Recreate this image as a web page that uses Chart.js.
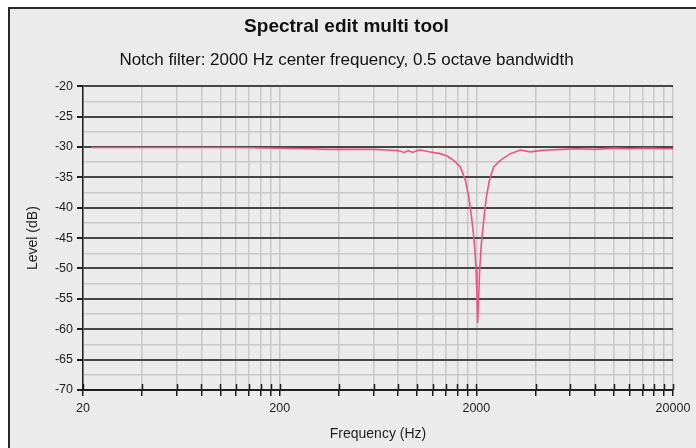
<!DOCTYPE html>
<html>
<head>
<meta charset="utf-8">
<script src="https://cdn.jsdelivr.net/npm/chart.js@4/dist/chart.umd.min.js"></script>
<style>
  html, body { margin: 0; padding: 0; background: #ffffff; }
  #wrap { position: relative; width: 696px; height: 448px; overflow: hidden; }
  #frame {
    position: absolute; left: 8px; top: 7px; width: 700px; height: 460px;
    background: #ebebeb; border-left: 2px solid #2a2a2a; border-top: 2px solid #2a2a2a;
  }
  #chart { position: absolute; left: 0; top: 0; }
</style>
</head>
<body>
<div id="wrap">
  <div id="frame"></div>
  <canvas id="chart" width="696" height="448"></canvas>
</div>
<script>
// Notch filter response
const freqHz = [
  22, 30, 50, 80, 120, 200, 280, 350, 450, 600, 700, 800, 860, 900, 950, 1000,
  1040, 1150, 1310, 1420, 1530, 1660, 1760, 1830, 1880, 1925, 1960, 1995, 2015,
  2030, 2055, 2080, 2115, 2155, 2200, 2250, 2330, 2450, 2650, 2980, 3350, 3760,
  4200, 4600, 5500, 6500, 8000, 10000, 12000, 15000, 18000, 20000
];
const levelDb = [
  -30.1, -30.1, -30.1, -30.1, -30.1, -30.2, -30.3, -30.4, -30.4, -30.4, -30.5, -30.6, -30.9, -30.6, -30.9, -30.6,
  -30.5, -30.8, -31.1, -31.5, -32.2, -33.3, -35.5, -38.2, -40.9, -43.7, -46.4, -50.3, -54.7,
  -59.0, -54.7, -50.3, -46.4, -43.7, -40.9, -38.2, -35.5, -33.3, -32.2, -31.1, -30.5, -30.8,
  -30.6, -30.5, -30.4, -30.3, -30.4, -30.2, -30.3, -30.2, -30.3, -30.3
];

const xTicks = [20, 40, 60, 80, 100, 120, 140, 160, 180,
  200, 400, 600, 800, 1000, 1200, 1400, 1600, 1800,
  2000, 4000, 6000, 8000, 10000, 12000, 14000, 16000, 18000, 20000];
const xLabels = [20, 200, 2000, 20000];

const FONT = "'Liberation Sans', Arial, Helvetica, sans-serif";
const TEXT = '#1e1e1e';

// tick marks on the x axis cross the axis line (above and below)
const crossTicks = {
  id: 'crossTicks',
  afterDraw(chart) {
    const x = chart.scales.x;
    const ctx = chart.ctx;
    const bottom = chart.chartArea.bottom;
    ctx.save();
    ctx.strokeStyle = '#1e1e1e';
    ctx.lineWidth = 1.5;
    x.ticks.forEach(t => {
      const px = Math.round(x.getPixelForValue(t.value)) + 0.5;
      ctx.beginPath();
      ctx.moveTo(px, bottom - 6);
      ctx.lineTo(px, bottom);
      ctx.stroke();
    });
    ctx.restore();
  }
};

new Chart(document.getElementById('chart'), {
  type: 'line',
  data: {
    datasets: [{
      data: freqHz.map((f, i) => ({ x: f, y: levelDb[i] })),
      borderColor: '#ea5682',
      borderWidth: 1.6,
      pointRadius: 0,
      tension: 0,
      fill: false
    }]
  },
  options: {
    responsive: false,
    devicePixelRatio: 1,
    animation: false,
    layout: { padding: { top: 15, left: 20, right: 23, bottom: 0 } },
    plugins: {
      legend: { display: false },
      tooltip: { enabled: false },
      title: {
        display: true,
        text: 'Spectral edit multi tool',
        color: '#111',
        font: { family: FONT, size: 19, weight: 'bold' },
        padding: { top: 0, bottom: 12 }
      },
      subtitle: {
        display: true,
        text: 'Notch filter: 2000 Hz center frequency, 0.5 octave bandwidth',
        color: '#111',
        font: { family: FONT, size: 17 },
        padding: { top: 0, bottom: 16 }
      }
    },
    scales: {
      x: {
        type: 'logarithmic',
        min: 20,
        max: 20000,
        afterBuildTicks: (scale) => { scale.ticks = xTicks.map(v => ({ value: v })); },
        afterFit: (scale) => { scale.height = 58; },
        ticks: {
          autoSkip: false,
          maxRotation: 0,
          padding: 5,
          color: TEXT,
          font: { family: FONT, size: 12.5 },
          callback: (v) => xLabels.includes(v) ? String(v) : ''
        },
        grid: {
          color: '#c8c8c8',
          lineWidth: 1.5,
          tickColor: '#1e1e1e',
          tickLength: 6
        },
        border: { color: '#1e1e1e', width: 2 },
        title: {
          display: true,
          text: 'Frequency (Hz)',
          color: TEXT,
          font: { family: FONT, size: 14 },
          padding: { top: 0, bottom: 5 }
        }
      },
      y: {
        min: -70,
        max: -20,
        afterFit: (scale) => { scale.width = 63; },
        ticks: {
          stepSize: 2.5,
          maxTicksLimit: 30,
          autoSkip: false,
          padding: 4,
          color: TEXT,
          font: { family: FONT, size: 12.5 },
          callback: (v) => v % 5 === 0 ? String(v) : ''
        },
        grid: {
          color: (c) => c.tick && c.tick.value % 5 === 0 ? '#454545' : '#c8c8c8',
          lineWidth: (c) => c.tick && c.tick.value % 5 === 0 ? 2 : 1.5,
          tickColor: (c) => c.tick && c.tick.value % 5 === 0 ? '#1e1e1e' : 'rgba(0,0,0,0)',
          tickLength: 6
        },
        border: { color: '#1e1e1e', width: 1.5 },
        title: {
          display: true,
          text: 'Level (dB)',
          color: TEXT,
          font: { family: FONT, size: 14 },
          padding: { top: 5, bottom: 0 }
        }
      }
    }
  },
  plugins: [crossTicks]
});
</script>
</body>
</html>
